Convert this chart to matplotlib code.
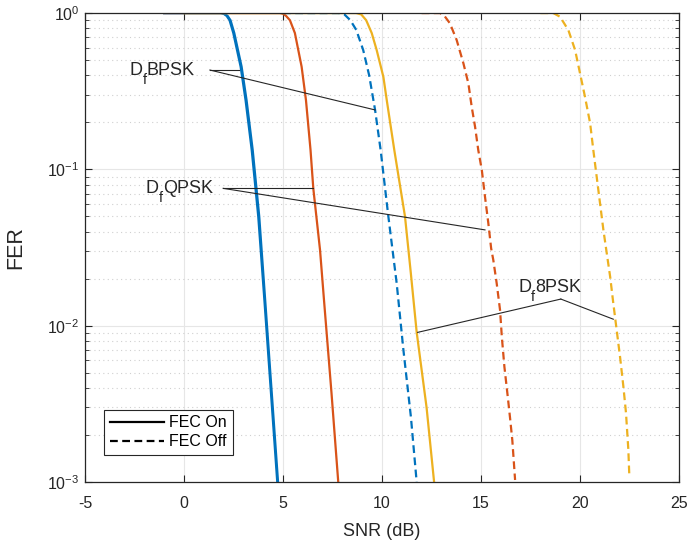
import numpy as np
import matplotlib
matplotlib.use("Agg")
import matplotlib.pyplot as plt
from matplotlib.lines import Line2D
from matplotlib.ticker import LogLocator, NullFormatter

plt.rcParams['font.family'] = ['Liberation Sans', 'DejaVu Sans']
plt.rcParams['mathtext.fontset'] = 'custom'
plt.rcParams['mathtext.rm'] = 'Liberation Sans'
plt.rcParams['axes.unicode_minus'] = False

# FER vs SNR for differential BPSK / QPSK / 8PSK, with and without FEC
bpsk_on_snr = [-1.0, 1.85, 2.0, 2.15, 2.3, 2.49, 2.86, 3.11, 3.42, 3.75, 4.06, 4.4, 4.71]
bpsk_on_fer = [1.0, 1.0, 0.99, 0.96, 0.9, 0.745, 0.454, 0.277, 0.133, 0.05, 0.0146, 0.0036, 0.001]

bpsk_on2_snr = [-1.0, 1.9, 2.05, 2.2, 2.35, 2.54, 2.91, 3.16, 3.47, 3.8, 4.1, 4.44, 4.75]
bpsk_on2_fer = [1.0, 1.0, 0.99, 0.96, 0.9, 0.745, 0.454, 0.277, 0.133, 0.05, 0.0146, 0.0036, 0.001]

qpsk_on_snr = [-1.0, 4.85, 5.0, 5.15, 5.35, 5.6, 5.94, 6.16, 6.39, 6.53, 6.87, 7.07, 7.45, 7.79]
qpsk_on_fer = [1.0, 1.0, 0.99, 0.96, 0.9, 0.745, 0.454, 0.277, 0.133, 0.0756, 0.0305, 0.0146, 0.0037, 0.001]

psk8_on_snr = [0.0, 8.7, 8.95, 9.2, 9.48, 9.73, 10.07, 10.24, 10.62, 11.16, 11.45, 11.75, 12.25, 12.63]
psk8_on_fer = [1.0, 1.0, 0.98, 0.9, 0.745, 0.58, 0.39, 0.277, 0.133, 0.05, 0.022, 0.0091, 0.003, 0.001]

bpsk_off_snr = [5.0, 7.8, 8.1, 8.4, 8.7, 9.05, 9.35, 9.65, 9.93, 10.32, 10.74, 11.08, 11.46, 11.75]
bpsk_off_fer = [1.0, 1.0, 0.98, 0.9, 0.78, 0.58, 0.4, 0.24, 0.133, 0.05, 0.0187, 0.007, 0.0026, 0.001]

qpsk_off_snr = [12.0, 12.93, 13.15, 13.43, 13.77, 14.11, 14.36, 14.53, 14.70, 14.86, 15.04, 15.20,
                15.37, 15.51, 15.62, 15.79, 15.96, 16.05, 16.18, 16.35, 16.46, 16.58, 16.72]
qpsk_off_fer = [1.0, 1.0, 0.96, 0.859, 0.672, 0.477, 0.355, 0.251, 0.187, 0.133, 0.099, 0.0669,
                0.0451, 0.0313, 0.0263, 0.0187, 0.0126, 0.0085, 0.00546, 0.00351, 0.00261, 0.00185, 0.00103]

psk8_off_snr = [18.0, 18.65, 18.99, 19.41, 19.75, 20.0, 20.25, 20.51, 20.67, 20.84, 21.01, 21.18,
                21.35, 21.52, 21.68, 21.85, 22.02, 22.19, 22.32, 22.44, 22.49]
psk8_off_fer = [1.0, 1.0, 0.947, 0.778, 0.58, 0.411, 0.291, 0.197, 0.133, 0.0897, 0.0606, 0.0409,
                0.029, 0.0206, 0.0139, 0.00937, 0.00632, 0.00406, 0.00277, 0.0016, 0.00108]

blue = '#0072BD'
orange = '#D95319'
yellow = '#EDB120'
ink = '#262626'

fig = plt.figure(figsize=(6.88, 5.44), dpi=100)
ax = fig.add_axes([0.1235, 0.114, 0.8635, 0.862])

lw = 1.6
dash = (0, (3.5, 2.0))
ax.semilogy(bpsk_on_snr, bpsk_on_fer, color=blue, lw=lw)
ax.semilogy(bpsk_on2_snr, bpsk_on2_fer, color=blue, lw=lw)
ax.semilogy(qpsk_on_snr, qpsk_on_fer, color=orange, lw=lw)
ax.semilogy(psk8_on_snr, psk8_on_fer, color=yellow, lw=lw)
ax.semilogy(bpsk_off_snr, bpsk_off_fer, color=blue, lw=lw, linestyle=dash)
ax.semilogy(qpsk_off_snr, qpsk_off_fer, color=orange, lw=lw, linestyle=dash)
ax.semilogy(psk8_off_snr, psk8_off_fer, color=yellow, lw=lw, linestyle=dash)

ax.set_xlim(-5, 25)
ax.set_ylim(1e-3, 1)
ax.set_xticks(np.arange(-5, 26, 5))
ax.yaxis.set_major_locator(LogLocator(base=10))
ax.yaxis.set_minor_locator(LogLocator(base=10, subs=np.arange(2, 10)))
ax.yaxis.set_minor_formatter(NullFormatter())

ax.grid(True, which='major', color='#e6e6e6', lw=0.8, ls='-')
ax.grid(True, which='minor', axis='y', color='#d0d0d0', lw=0.8, ls=(0, (1, 3)))
ax.set_axisbelow(True)

ax.tick_params(which='both', direction='in', top=True, right=True, labelsize=11.5,
               colors=ink)
ax.tick_params(axis='x', which='major', pad=10)
ax.tick_params(axis='y', which='major', pad=4)
ax.tick_params(which='major', length=5)
ax.tick_params(which='minor', length=3)
for s in ax.spines.values():
    s.set_color(ink)
    s.set_linewidth(0.9)

ax.set_xlabel('SNR (dB)', fontsize=13, color=ink, labelpad=9)
ax.set_ylabel('FER', fontsize=15.5, color=ink, labelpad=15)

# annotation leader lines
ax.plot([1.31, 2.78], [0.432, 0.432], color=ink, lw=0.8)
ax.plot([1.31, 9.65], [0.432, 0.24], color=ink, lw=0.8)
ax.plot([1.98, 6.53], [0.0756, 0.0756], color=ink, lw=0.8)
ax.plot([1.98, 15.2], [0.0756, 0.041], color=ink, lw=0.8)
ax.plot([19.03, 11.80], [0.0148, 0.00906], color=ink, lw=0.8)
ax.plot([19.03, 21.68], [0.0148, 0.011], color=ink, lw=0.8)

renderer = fig.canvas.get_renderer()


def label_df(x, y, name, size=13):
    # "D" with a lowered "f" subscript, then the modulation name
    t1 = ax.annotate('D', (x, y), xycoords='data', fontsize=size, color=ink,
                     va='baseline', ha='left')
    w1 = t1.get_window_extent(renderer).width * 72 / fig.dpi
    t2 = ax.annotate('f', (x, y), xycoords='data', xytext=(w1, -6.5),
                     textcoords='offset points', fontsize=size * 0.8, color=ink,
                     va='baseline', ha='left')
    w2 = t2.get_window_extent(renderer).width * 72 / fig.dpi
    ax.annotate(name, (x, y), xycoords='data', xytext=(w1 + w2, 0),
                textcoords='offset points', fontsize=size, color=ink,
                va='baseline', ha='left')


label_df(-2.73, 0.401, 'BPSK')
label_df(-1.92, 0.0702, 'QPSK')
label_df(16.88, 0.01648, '8PSK')

handles = [Line2D([], [], color='k', lw=1.6),
           Line2D([], [], color='k', lw=1.6, linestyle=(0, (3.5, 2.0)))]
leg = ax.legend(handles, ['FEC On', 'FEC Off'], loc='lower left',
                bbox_to_anchor=(0.032, 0.058), fontsize=11.5, fancybox=False,
                framealpha=1, edgecolor=ink, handlelength=3.4,
                borderpad=0.35, labelspacing=0.25, handletextpad=0.35,
                borderaxespad=0)
leg.get_frame().set_linewidth(0.8)

fig.savefig('out.png', dpi=100)
